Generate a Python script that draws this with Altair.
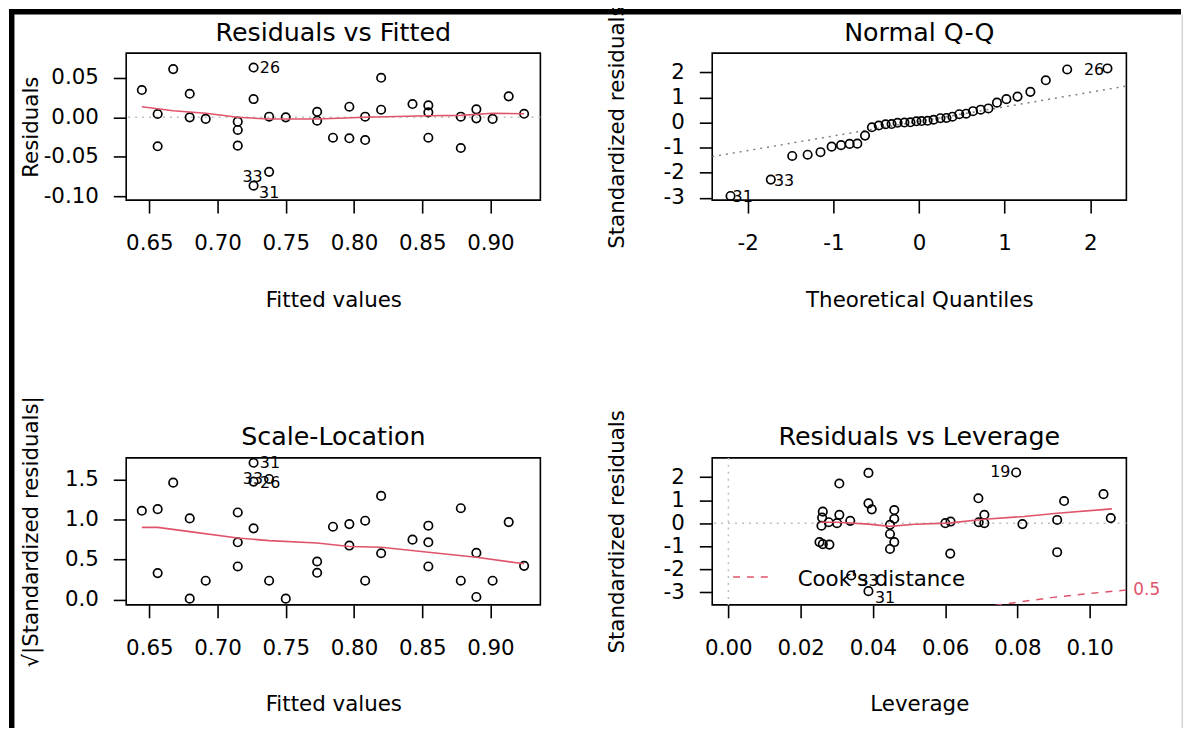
import altair as alt
import pandas as pd

FONT = "DejaVu Sans"
RED = "#DF536B"
W, H = 417, 148
LAB = 21.5

# ---------------- Residuals vs Fitted ----------------
fitted = [0.6445, 0.6561, 0.6561, 0.6675, 0.6796, 0.6796, 0.6913, 0.7148, 0.7148, 0.7148,
          0.7264, 0.7264, 0.7264, 0.7378, 0.7378, 0.7500, 0.7730, 0.7730, 0.7846, 0.7966,
          0.7966, 0.8082, 0.8082, 0.8199, 0.8199, 0.8429, 0.8545, 0.8545, 0.8545, 0.8783,
          0.8783, 0.8897, 0.8897, 0.9016, 0.9134, 0.9247]
residuals = [0.0345, 0.0042, -0.0366, 0.0610, 0.0298, 0.0000, -0.0020, -0.0055, -0.0160, -0.0358,
             0.0630, 0.0231, -0.0864, 0.0008, -0.0690, 0.0000, 0.0070, -0.0043, -0.0258, 0.0134,
             -0.0265, 0.0008, -0.0287, 0.0500, 0.0096, 0.0168, 0.0151, 0.0063, -0.0258, 0.0008,
             -0.0388, 0.0101, -0.0013, -0.0020, 0.0265, 0.0045]
rf_smooth_x = [0.6445, 0.6675, 0.6913, 0.7148, 0.7378, 0.7730, 0.8082, 0.8545, 0.8783, 0.9016, 0.9247]
rf_smooth_y = [0.0134, 0.0083, 0.0051, 0.0000, -0.0021, -0.0021, 0.0000, 0.0020, 0.0025, 0.0051, 0.0045]
rf_label_text = ["26", "33", "31"]
rf_label_x = [0.7384, 0.7257, 0.7378]
rf_label_y = [0.0619, -0.0750, -0.0952]
rf_x_ticks = [0.65, 0.70, 0.75, 0.80, 0.85, 0.90]
rf_y_ticks = [-0.10, -0.05, 0.00, 0.05]

# ---------------- Normal Q-Q ----------------
qq_theoretical = [-2.20, -1.73, -1.48, -1.30, -1.15, -1.02, -0.91, -0.81, -0.72, -0.63,
                  -0.55, -0.47, -0.39, -0.32, -0.25, -0.17, -0.10, -0.03, 0.03, 0.10,
                  0.17, 0.25, 0.32, 0.39, 0.47, 0.55, 0.63, 0.72, 0.81, 0.91,
                  1.02, 1.15, 1.30, 1.48, 1.73, 2.20]
qq_sample = [-2.92, -2.27, -1.33, -1.28, -1.18, -0.96, -0.90, -0.85, -0.84, -0.52,
             -0.19, -0.12, -0.07, -0.06, -0.01, 0.00, 0.01, 0.05, 0.06, 0.07,
             0.11, 0.17, 0.18, 0.23, 0.33, 0.35, 0.45, 0.51, 0.56, 0.79,
             0.93, 1.03, 1.22, 1.68, 2.11, 2.15]
qq_line_x = [-2.414, 2.421]
qq_line_y = [-1.356, 1.450]
qq_label_text = ["26", "33", "31"]
qq_label_x = [2.043, -1.576, -2.058]
qq_label_y = [2.083, -2.332, -2.976]
qq_x_ticks = [-2, -1, 0, 1, 2]
qq_y_ticks = [-3, -2, -1, 0, 1, 2]

# ---------------- Scale-Location ----------------
sqrt_std_resid = [1.109, 0.331, 1.129, 1.460, 1.014, 0.012, 0.236, 0.414, 0.716, 1.088,
                  1.473, 0.890, 1.708, 0.236, 1.506, 0.012, 0.476, 0.335, 0.910, 0.675,
                  0.943, 0.236, 0.985, 1.295, 0.579, 0.749, 0.923, 0.716, 0.414, 0.236,
                  1.141, 0.583, 0.033, 0.236, 0.968, 0.422]
sl_smooth_x = [0.6445, 0.6561, 0.6796, 0.7148, 0.7378, 0.7730, 0.7966, 0.8199, 0.8545, 0.8897, 0.9247]
sl_smooth_y = [0.902, 0.902, 0.849, 0.769, 0.737, 0.707, 0.663, 0.654, 0.592, 0.530, 0.447]
sl_label_text = ["31", "33", "26"]
sl_label_x = [0.7384, 0.7259, 0.7386]
sl_label_y = [1.708, 1.501, 1.452]
sl_y_ticks = [0.0, 0.5, 1.0, 1.5]

# ---------------- Residuals vs Leverage ----------------
leverage = [0.02613, 0.02595, 0.02576, 0.02777, 0.02521, 0.02613, 0.02796, 0.03007, 0.03071, 0.03071,
            0.03373, 0.03401, 0.03877, 0.03877, 0.03969, 0.03877, 0.04473, 0.04473, 0.04473, 0.04592,
            0.04592, 0.04592, 0.06004, 0.06150, 0.06141, 0.06920, 0.06929, 0.07085, 0.07085, 0.07965,
            0.08139, 0.09101, 0.09101, 0.09293, 0.10384, 0.10585]
lev_std_resid = [0.50, 0.24, -0.11, 0.04, -0.82, -0.91, -0.93, 0.00, 0.36, 1.72,
                 0.10, -2.27, 2.18, 0.86, 0.60, -2.95, -0.07, -0.47, -1.12, 0.57,
                 0.19, -0.82, 0.00, 0.07, -1.32, 1.08, 0.04, 0.36, 0.00, 2.20,
                 -0.04, 0.14, -1.26, 0.96, 1.26, 0.22]
lev_smooth_x = [0.02548, 0.03007, 0.03877, 0.04473, 0.05160, 0.06075, 0.07085, 0.08185, 0.09101, 0.10613]
lev_smooth_y = [0.04, 0.04, -0.04, -0.14, -0.05, 0.00, 0.17, 0.29, 0.43, 0.62]
cook_h = [0.0700, 0.0800, 0.0900, 0.1000, 0.1102]
cook_y = [-3.66, -3.43, -3.22, -3.05, -2.90]
cook_level = ["0.5"]
lev_label_text = ["19", "33", "31"]
lev_label_x = [0.07525, 0.03880, 0.04336]
lev_label_y = [2.20, -2.51, -3.23]
lev_x_ticks = [0.00, 0.02, 0.04, 0.06, 0.08, 0.10]
lev_y_ticks = [-3, -2, -1, 0, 1, 2]

panel_titles = ["Residuals vs Fitted", "Normal Q-Q", "Scale-Location", "Residuals vs Leverage"]


def lexpr(dec):
    return f"(datum.value < 0 ? '-' : '') + format(abs(datum.value), '.{dec}f')"


def axis_common(**kw):
    d = dict(domain=False, grid=False, ticks=True, tickSize=13, tickWidth=1.6, tickColor="black",
             labelFont=FONT, labelFontSize=LAB, labelColor="black", labelFlush=False,
             labelOverlap=False, titleFont=FONT, titleFontSize=LAB, titleFontWeight="normal",
             titleColor="black", titleBaseline="alphabetic", titleAlign="center")
    d.update(kw)
    return alt.Axis(**d)


def x_axis(values, dec, title):
    return axis_common(values=values, labelExpr=lexpr(dec), title=title, labelPadding=19.5,
                       titleX=W / 2, titleY=106.8, titleAngle=0)


def y_axis(values, dec, title):
    return axis_common(values=values, labelExpr=lexpr(dec), title=title, labelPadding=15,
                       titleX=-89.2, titleY=H / 2, titleAngle=270)


one = pd.DataFrame({"a": [0]})


def title_mark(text):
    return alt.Chart(one).mark_text(font=FONT, fontSize=25.5, color="black", align="center",
                                    baseline="alphabetic").encode(
        x=alt.value(W / 2), y=alt.value(-12.5), text=alt.value(text))


def panel(xdom, ydom, xax, yax, pts, smooth, labels, extra=()):
    xs = alt.Scale(domain=xdom, nice=False, zero=False)
    ys = alt.Scale(domain=ydom, nice=False, zero=False)

    def X(f):
        return alt.X(f, type="quantitative", scale=xs, axis=xax)

    def Y(f):
        return alt.Y(f, type="quantitative", scale=ys, axis=yax)

    layers = []
    for kind, df, opts in extra:
        if kind == "hrule":
            layers.append(alt.Chart(df).mark_rule(**opts).encode(y=Y("y")))
        elif kind == "vrule":
            layers.append(alt.Chart(df).mark_rule(**opts).encode(x=X("x")))
        elif kind == "line":
            layers.append(alt.Chart(df).mark_line(**opts).encode(x=X("x"), y=Y("y"), order="i:Q"))
        elif kind == "text":
            layers.append(alt.Chart(df).mark_text(**opts).encode(x=X("x"), y=Y("y"), text="t:N"))
    layers.append(alt.Chart(pts).mark_point(shape="circle", filled=False, color="black",
                                            strokeWidth=1.7, size=72, opacity=1)
                  .encode(x=X("x"), y=Y("y")))
    if smooth is not None:
        layers.append(alt.Chart(smooth).mark_line(color=RED, strokeWidth=1.6)
                      .encode(x=X("x"), y=Y("y"), order="i:Q"))
    layers.append(alt.Chart(labels).mark_text(font=FONT, fontSize=16, color="black",
                                              align="center", baseline="middle")
                  .encode(x=X("x"), y=Y("y"), text="t:N"))
    return layers


def df_xy(x, y):
    return pd.DataFrame({"x": x, "y": y, "i": list(range(len(x)))})


def df_lab(t, x, y):
    return pd.DataFrame({"t": t, "x": x, "y": y})


dotted_light = dict(color="#bebebe", strokeWidth=1.5, strokeDash=[2, 5])

# Panel 1
p1_layers = panel([0.63304, 0.93662], [-0.10477, 0.08116],
                  x_axis(rf_x_ticks, 2, "Fitted values"), y_axis(rf_y_ticks, 2, "Residuals"),
                  df_xy(fitted, residuals), df_xy(rf_smooth_x, rf_smooth_y),
                  df_lab(rf_label_text, rf_label_x, rf_label_y),
                  extra=[("hrule", pd.DataFrame({"y": [0]}), dotted_light)])
p1 = alt.layer(*p1_layers, title_mark(panel_titles[0])).properties(width=W, height=H)

# Panel 2
p2_layers = panel([-2.414, 2.421], [-3.087, 2.758],
                  x_axis(qq_x_ticks, 0, "Theoretical Quantiles"),
                  y_axis(qq_y_ticks, 0, "Standardized residuals"),
                  df_xy(qq_theoretical, qq_sample), None,
                  df_lab(qq_label_text, qq_label_x, qq_label_y),
                  extra=[("line", df_xy(qq_line_x, qq_line_y),
                          dict(color="#7f7f7f", strokeWidth=1.5, strokeDash=[2, 5], clip=True))])
p2 = alt.layer(*p2_layers, title_mark(panel_titles[1])).properties(width=W, height=H)

# Panel 3
p3_layers = panel([0.63304, 0.93662], [-0.0657, 1.769],
                  x_axis(rf_x_ticks, 2, "Fitted values"),
                  y_axis(sl_y_ticks, 1, "\u221a|Standardized residuals|"),
                  df_xy(fitted, sqrt_std_resid), df_xy(sl_smooth_x, sl_smooth_y),
                  df_lab(sl_label_text, sl_label_x, sl_label_y))
p3 = alt.layer(*p3_layers, title_mark(panel_titles[2])).properties(width=W, height=H)

# Panel 4
cook_label = df_lab(cook_level, [0.11017], [cook_y[-1]])
p4_layers = panel([-0.00448, 0.11017], [-3.547, 2.832],
                  x_axis(lev_x_ticks, 2, "Leverage"),
                  y_axis(lev_y_ticks, 0, "Standardized residuals"),
                  df_xy(leverage, lev_std_resid), df_xy(lev_smooth_x, lev_smooth_y),
                  df_lab(lev_label_text, lev_label_x, lev_label_y),
                  extra=[("hrule", pd.DataFrame({"y": [0]}), dotted_light),
                         ("vrule", pd.DataFrame({"x": [0]}), dotted_light),
                         ("line", df_xy(cook_h, cook_y),
                          dict(color=RED, strokeWidth=1.5, strokeDash=[7, 7], clip=True)),
                         ("text", cook_label,
                          dict(font=FONT, fontSize=17, color=RED, align="left",
                               baseline="middle", dx=7))])
legend_line = alt.Chart(one).mark_rule(color=RED, strokeWidth=1.5, strokeDash=[7, 7]).encode(
    x=alt.value(21), x2=alt.value(57), y=alt.value(120))
legend_text = alt.Chart(one).mark_text(font=FONT, fontSize=LAB, color="black", align="left",
                                       baseline="middle").encode(
    x=alt.value(86), y=alt.value(123), text=alt.value("Cook's distance"))
frame_top = alt.Chart(one).mark_rect(color="black").encode(
    x=alt.value(-708), x2=alt.value(472), y=alt.value(-452), y2=alt.value(-446.5))
frame_left = alt.Chart(one).mark_rect(color="black").encode(
    x=alt.value(-708), x2=alt.value(-702.5), y=alt.value(-452), y2=alt.value(272))
frame_right = alt.Chart(one).mark_rect(color="#d4d4d4").encode(
    x=alt.value(472.5), x2=alt.value(474), y=alt.value(-446.5), y2=alt.value(272))
p4 = alt.layer(*p4_layers, legend_line, legend_text, title_mark(panel_titles[3]),
               frame_top, frame_left, frame_right).properties(width=W, height=H)

chart = alt.concat(p1, p2, p3, p4, columns=2, spacing={"row": 259.5, "column": 173},
                   bounds="flush").properties(
    padding={"top": -7, "left": 0, "right": 0, "bottom": 0}, background="white").configure(
    font=FONT).configure_view(stroke="black", strokeWidth=1.6)

chart.save("out.html", embed_options={"renderer": "svg", "actions": False})
